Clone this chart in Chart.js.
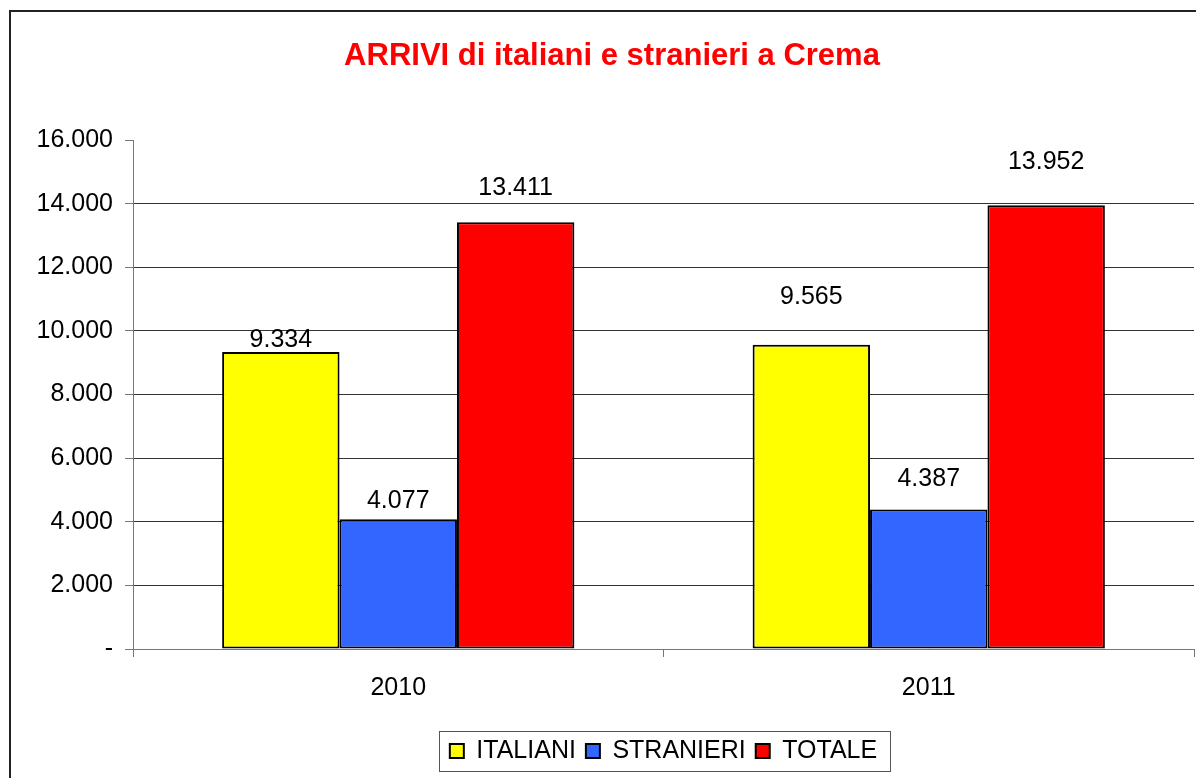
<!DOCTYPE html>
<html>
<head>
<meta charset="utf-8">
<title>ARRIVI di italiani e stranieri a Crema</title>
<script src="https://cdn.jsdelivr.net/npm/chart.js@4.4.1/dist/chart.umd.min.js"></script>
<style>
    html, body { margin: 0; padding: 0; background: #fff; overflow: hidden; }
    canvas { display: block; }
</style>
</head>
<body>
<canvas id="chart" width="1196" height="800"></canvas>
<script>
// dati
var anni = ['2010', '2011'];
var italiani = [9334, 9565];
var stranieri = [4077, 4387];
var totale = [13411, 13952];
var yMax = 16000;
var yStep = 2000;
var titolo = 'ARRIVI di italiani e stranieri a Crema';

var FONT = '"Liberation Sans", Arial, sans-serif';
Chart.defaults.font.family = FONT;
Chart.defaults.color = '#000';

function fmt(v) {
    if (v === 0) return '-';
    return String(v).replace(/\B(?=(\d{3})+(?!\d))/g, '.');
}

// cornice esterna (solo lato sinistro e superiore visibili) e titolo
var framePlugin = {
    id: 'frame',
    beforeDraw: function (chart, args, opts) {
        var ctx = chart.ctx;
        ctx.save();
        ctx.strokeStyle = '#222';
        ctx.lineWidth = 2;
        ctx.beginPath();
        ctx.moveTo(10, chart.height);
        ctx.lineTo(10, 11);
        ctx.lineTo(chart.width, 11);
        ctx.stroke();

        ctx.font = 'bold 31px ' + FONT;
        ctx.fillStyle = '#FF0000';
        ctx.textAlign = 'center';
        ctx.textBaseline = 'middle';
        ctx.fillText(opts.text, opts.x, opts.y);
        ctx.restore();
    }
};

// etichette dei valori sopra le barre
var valuesPlugin = {
    id: 'values',
    afterDatasetsDraw: function (chart, args, opts) {
        var ctx = chart.ctx;
        ctx.save();
        ctx.font = '25px ' + FONT;
        ctx.fillStyle = '#000';
        ctx.textAlign = 'center';
        ctx.textBaseline = 'middle';
        chart.data.datasets.forEach(function (ds, di) {
            var meta = chart.getDatasetMeta(di);
            meta.data.forEach(function (bar, i) {
                var off = opts.offsets[di][i];
                ctx.fillText(fmt(ds.data[i]), bar.x, bar.y - off);
            });
        });
        ctx.restore();
    }
};

// riquadro attorno alla legenda
var legendBoxPlugin = {
    id: 'legendBox',
    afterDraw: function (chart) {
        var boxes = chart.legend.legendHitBoxes;
        if (!boxes || !boxes.length) return;
        var left = Infinity, right = -Infinity, mid = 0;
        boxes.forEach(function (b) {
            left = Math.min(left, b.left);
            right = Math.max(right, b.left + b.width);
            mid += b.top + b.height / 2;
        });
        mid = mid / boxes.length;
        var ctx = chart.ctx;
        ctx.save();
        ctx.strokeStyle = '#555';
        ctx.lineWidth = 1;
        ctx.strokeRect(Math.round(left - 11) + 0.5, Math.round(mid - 20) + 0.5,
            Math.round(right - left + 24), 40);
        ctx.restore();
    }
};

var cfg = {
    type: 'bar',
    data: {
        labels: anni,
        datasets: [
            {
                label: 'ITALIANI',
                data: italiani,
                backgroundColor: '#FFFF00',
                borderColor: '#000',
                borderWidth: 2,
                borderSkipped: false
            },
            {
                label: 'STRANIERI',
                data: stranieri,
                backgroundColor: '#3366FF',
                borderColor: '#000',
                borderWidth: 2,
                borderSkipped: false
            },
            {
                label: 'TOTALE',
                data: totale,
                backgroundColor: '#FF0000',
                borderColor: '#000',
                borderWidth: 2,
                borderSkipped: false
            }
        ]
    },
    options: {
        responsive: false,
        animation: false,
        categoryPercentage: 0.664,
        barPercentage: 1.0,
        layout: {
            padding: { left: 0, right: 2, top: 140, bottom: 26.5 }
        },
        scales: {
            x: {
                grid: {
                    offset: true,
                    drawOnChartArea: false,
                    drawTicks: true,
                    tickLength: 8,
                    color: '#777'
                },
                border: { display: true, color: '#777', width: 1 },
                ticks: {
                    font: { size: 25 },
                    color: '#000',
                    padding: 16
                },
                afterFit: function (scale) {
                    scale.height = 79.5;
                }
            },
            y: {
                min: 0,
                max: yMax,
                grid: {
                    color: function (c) {
                        return c.tick && c.tick.value === yMax ? 'rgba(0,0,0,0)' : '#333';
                    },
                    tickColor: '#777',
                    drawTicks: true,
                    tickLength: 8
                },
                border: { display: true, color: '#777', width: 1 },
                ticks: {
                    stepSize: yStep,
                    font: { size: 25 },
                    color: '#000',
                    padding: 12,
                    callback: function (v) { return fmt(v); }
                },
                afterFit: function (scale) {
                    scale.width = 133;
                }
            }
        },
        plugins: {
            title: { display: false },
            legend: {
                position: 'bottom',
                fullSize: false,
                labels: {
                    boxWidth: 14,
                    boxHeight: 14,
                    padding: 10,
                    color: '#000',
                    font: { size: 25 }
                }
            },
            tooltip: { enabled: false },
            frame: { text: titolo, x: 612, y: 56 },
            values: {
                offsets: [[12, 48], [18, 30], [34, 43]]
            }
        }
    },
    plugins: [framePlugin, valuesPlugin, legendBoxPlugin]
};

var chart = new Chart(document.getElementById('chart'), cfg);
</script>
</body>
</html>
